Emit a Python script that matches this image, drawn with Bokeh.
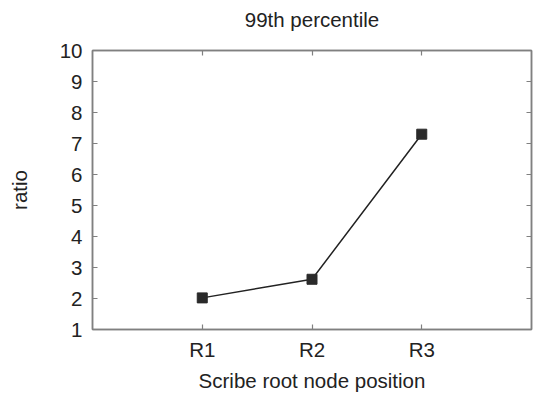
from bokeh.plotting import figure
from bokeh.models import FixedTicker, LinearAxis, Range1d
from bokeh.embed import file_html
from bokeh.resources import INLINE

title_text = "99th percentile"
categories = ["R1", "R2", "R3"]
ratio_99th = [2.02, 2.62, 7.30]
y_ticks = [1, 2, 3, 4, 5, 6, 7, 8, 9, 10]

x_pos = [i + 1 for i in range(len(categories))]
FONT = "Liberation Sans"
TEXT = "#222222"
AXIS = "#808080"
FS = "20.5px"

p = figure(width=533, height=394, output_backend="svg", toolbar_location=None,
           x_range=Range1d(0, len(categories) + 1), y_range=Range1d(1, 10),
           title_location=None,
           min_border_left=92, min_border_right=2, min_border_top=50, min_border_bottom=65)

p.grid.visible = False
p.outline_line_color = AXIS
p.outline_line_width = 1.5
p.background_fill_color = "white"
p.border_fill_color = "white"

p.line(x_pos, ratio_99th, line_color="#222222", line_width=1.5)
p.scatter(x_pos, ratio_99th, marker="square", size=10, fill_color="#2a2a2a", line_color="#2a2a2a")

def style(ax, labels=True):
    ax.axis_line_color = AXIS
    ax.axis_line_width = 1.5
    ax.major_tick_line_color = AXIS
    ax.major_tick_line_width = 1.2
    ax.major_tick_in = 5
    ax.major_tick_out = 0
    ax.minor_tick_line_color = None
    ax.major_label_text_font = FONT
    ax.axis_label_text_font = FONT
    ax.axis_label_text_font_size = FS
    ax.axis_label_text_font_style = "normal"
    ax.axis_label_text_color = TEXT
    if labels:
        ax.major_label_text_font_size = FS
        ax.major_label_text_color = TEXT
    else:
        ax.major_label_text_font_size = "1px"
        ax.major_label_text_color = None
        ax.major_label_standoff = 0

xt = FixedTicker(ticks=x_pos)
yt = FixedTicker(ticks=y_ticks)
overrides = {x: c for x, c in zip(x_pos, categories)}

p.xaxis.ticker = xt
p.xaxis.major_label_overrides = overrides
p.xaxis.axis_label = "Scribe root node position"
p.xaxis.major_label_standoff = 8
p.xaxis.axis_label_standoff = 5
style(p.xaxis[0])

p.yaxis.ticker = yt
p.yaxis.axis_label = "ratio"
p.yaxis.major_label_standoff = 10
p.yaxis.axis_label_standoff = 26
style(p.yaxis[0])

# top mirror axis carries the chart title as its label
top = LinearAxis(ticker=xt, axis_label=title_text)
style(top, labels=False)
top.axis_label_standoff = 20
p.add_layout(top, "above")
right = LinearAxis(ticker=yt)
style(right, labels=False)
p.add_layout(right, "right")

open("out.html", "w").write(file_html(p, INLINE))
